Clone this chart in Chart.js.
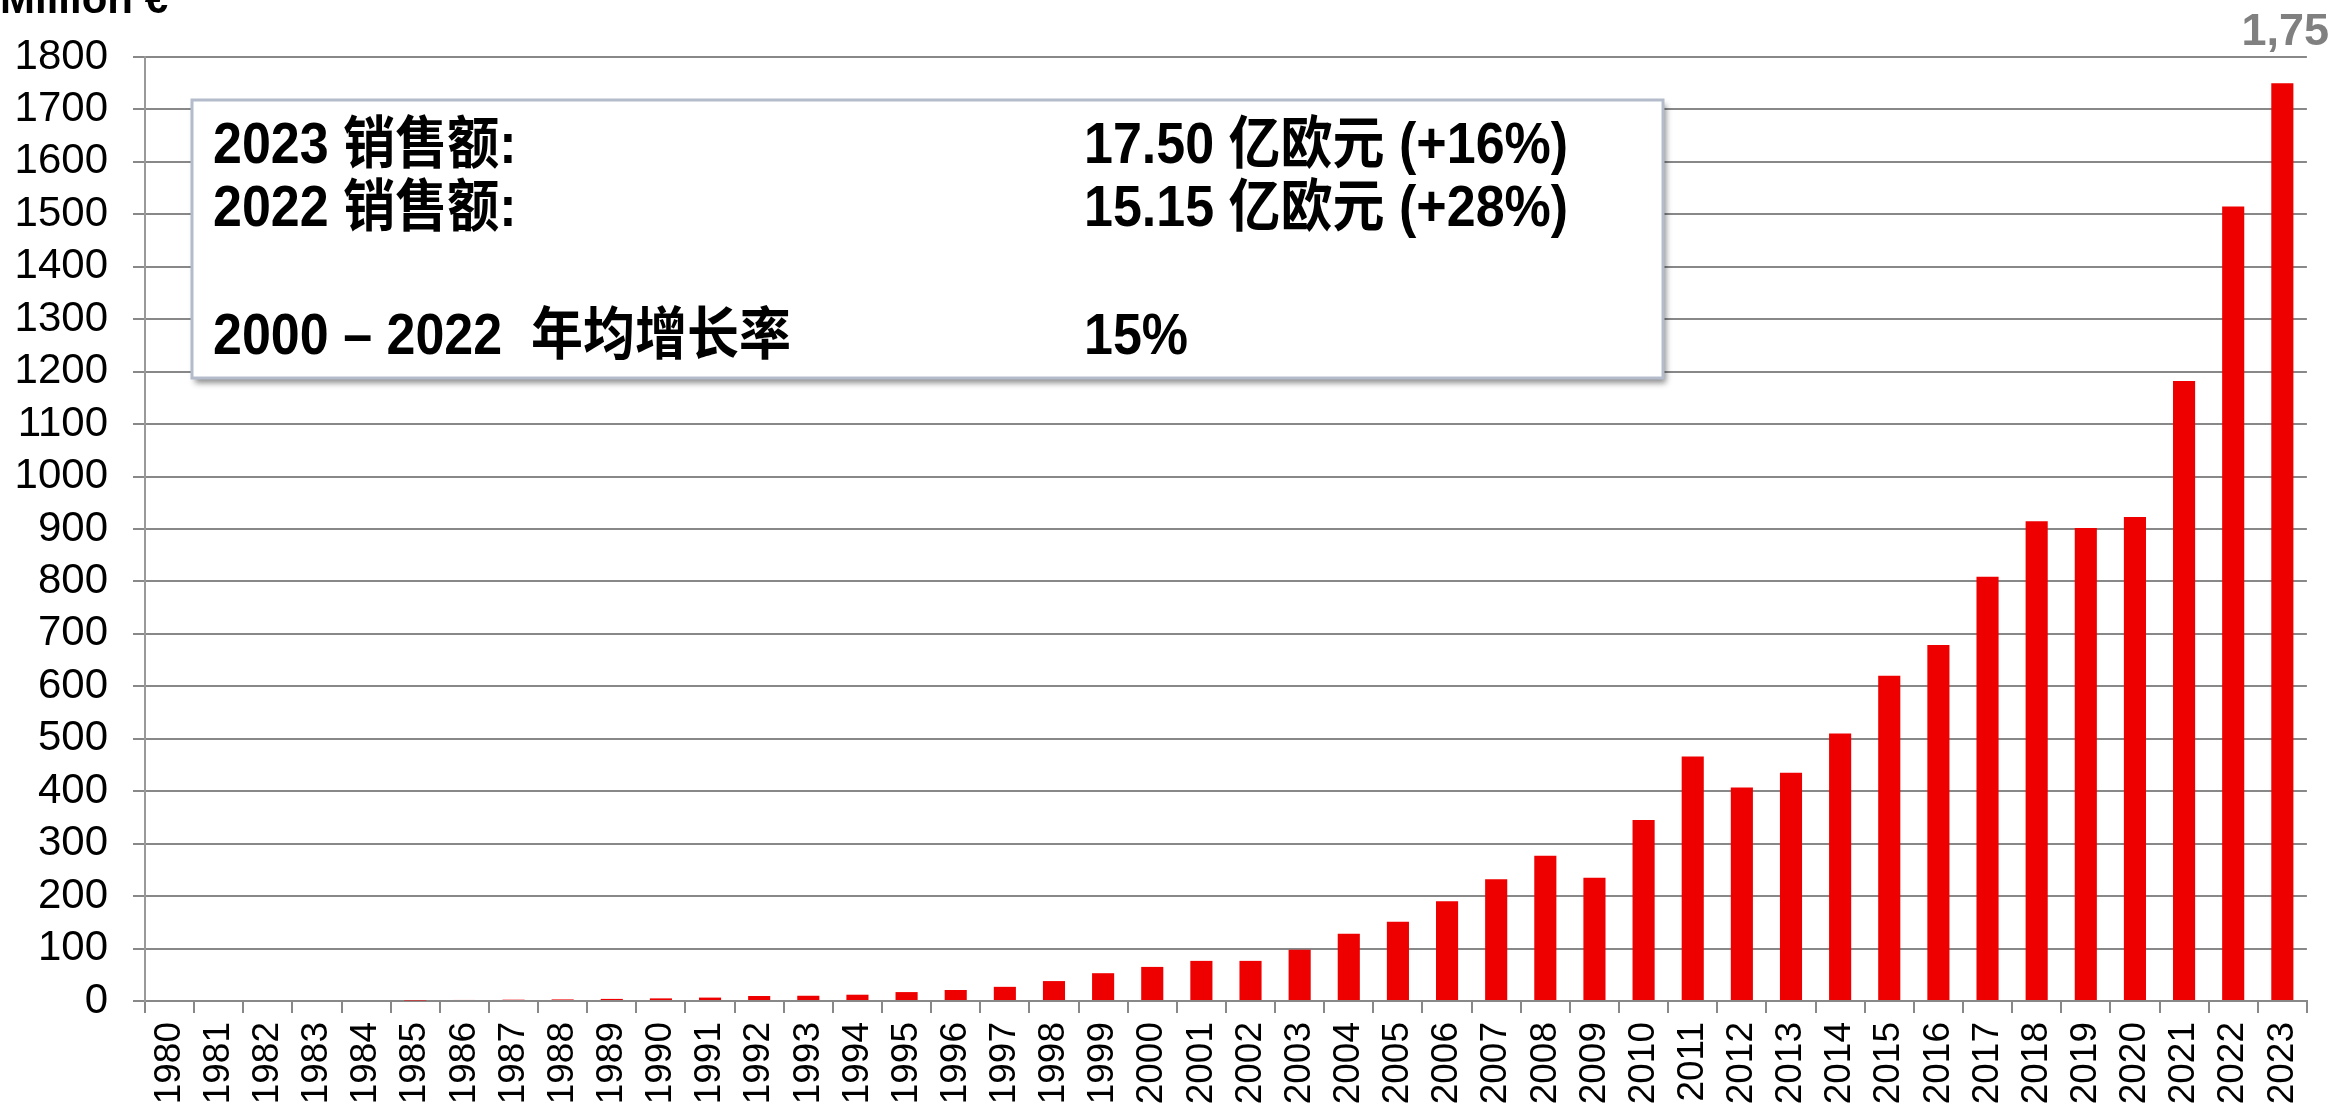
<!DOCTYPE html>
<html>
<head>
<meta charset="utf-8">
<script src="https://cdn.jsdelivr.net/npm/chart.js@4.4.1/dist/chart.umd.min.js"></script>
<style>
html, body { margin: 0; padding: 0; background: #fff; overflow: hidden; }
</style>
</head>
<body>
<canvas id="myChart" width="2336" height="1106"></canvas>
<script>
// sales per year (Million €)
const years = [
    '1980', '1981', '1982', '1983', '1984', '1985', '1986', '1987', '1988', '1989',
    '1990', '1991', '1992', '1993', '1994', '1995', '1996', '1997', '1998', '1999',
    '2000', '2001', '2002', '2003', '2004', '2005', '2006', '2007', '2008', '2009',
    '2010', '2011', '2012', '2013', '2014', '2015', '2016', '2017', '2018', '2019',
    '2020', '2021', '2022', '2023'
];
const sales = [
    0, 0, 0, 0, 0, 1, 2, 2.5, 3, 4,
    5, 6.5, 9.5, 10, 12, 17, 21, 27, 38, 53,
    65, 76.5, 76.5, 97.5, 128, 151, 190, 232, 277, 235,
    345, 466, 407, 435, 510, 620, 679, 809, 915, 902,
    923, 1182, 1515, 1750
];
const yMin = 0;
const yMax = 1800;
const yStep = 100;

// text box contents
const boxLeft = ['2023 销售额:', '2022 销售额:', '', '2000 – 2022  年均增长率'];
const boxRight = ['17.50 亿欧元 (+16%)', '15.15 亿欧元 (+28%)', '', '15%'];
const unitLabel = 'Million €';
const lastLabel = '1,75';

const latin = "'Liberation Sans', Arial, sans-serif";
const mixed = "'Liberation Sans', 'Noto Sans CJK SC', sans-serif";

//overlay: unit, top right value, summary box
const overlay = {
    id: 'overlay',
    afterDraw(chart) {
        const c = chart.ctx;
        c.save();
        c.fillStyle = '#000';
        c.font = 'bold 42px ' + latin;
        c.textAlign = 'left';
        c.textBaseline = 'alphabetic';
        c.fillText(unitLabel, 0, 13);

        c.fillStyle = '#808080';
        c.font = 'bold 45px ' + latin;
        c.textAlign = 'right';
        c.fillText(lastLabel, 2329, 45);

        // box
        const bx = 192, by = 100, bw = 1471, bh = 278;
        c.save();
        c.shadowColor = 'rgba(0,0,0,0.45)';
        c.shadowBlur = 6;
        c.shadowOffsetX = 3;
        c.shadowOffsetY = 5;
        c.fillStyle = '#fff';
        c.fillRect(bx, by, bw, bh);
        c.restore();
        c.strokeStyle = '#b4bccc';
        c.lineWidth = 3;
        c.strokeRect(bx, by, bw, bh);

        c.fillStyle = '#000';
        c.font = 'bold 52px ' + mixed;
        c.textAlign = 'left';
        const rows = [163, 226, 290, 354];
        rows.forEach((y, i) => {
            c.save();
            c.translate(0, y);
            c.scale(1, 1.1);
            c.fillText(boxLeft[i], 213, 0);
            c.fillText(boxRight[i], 1084, 0);
            c.restore();
        });
        c.restore();
    }
};

const ctx = document.getElementById('myChart');
new Chart(ctx, {
    type: 'bar',
    data: {
        labels: years,
        datasets: [{
            data: sales,
            backgroundColor: '#ee0000',
            borderWidth: 0,
            categoryPercentage: 1,
            barPercentage: 0.45
        }]
    },
    options: {
        responsive: false,
        animation: false,
        devicePixelRatio: 1,
        layout: {
            padding: { top: 57, right: 23, left: 0, bottom: 0 }
        },
        plugins: {
            legend: { display: false },
            tooltip: { enabled: false }
        },
        scales: {
            x: {
                afterFit(scale) { scale.height = 105; },
                grid: {
                    display: true,
                    drawOnChartArea: false,
                    drawTicks: true,
                    tickLength: 12,
                    color: '#888',
                    lineWidth: 2,
                    offset: true
                },
                border: { color: '#888', width: 2 },
                ticks: {
                    autoSkip: false,
                    maxRotation: 90,
                    minRotation: 90,
                    padding: 9,
                    color: '#000',
                    font: { size: 37, family: latin }
                }
            },
            y: {
                min: yMin,
                max: yMax,
                afterFit(scale) { scale.width = 145; },
                grid: {
                    color: '#888',
                    lineWidth: 2,
                    tickLength: 12
                },
                border: { color: '#999', width: 2 },
                ticks: {
                    stepSize: yStep,
                    autoSkip: false,
                    padding: 25,
                    color: '#000',
                    font: { size: 42, family: latin },
                    callback: (v) => String(v)
                }
            }
        }
    },
    plugins: [overlay]
});
</script>
</body>
</html>
